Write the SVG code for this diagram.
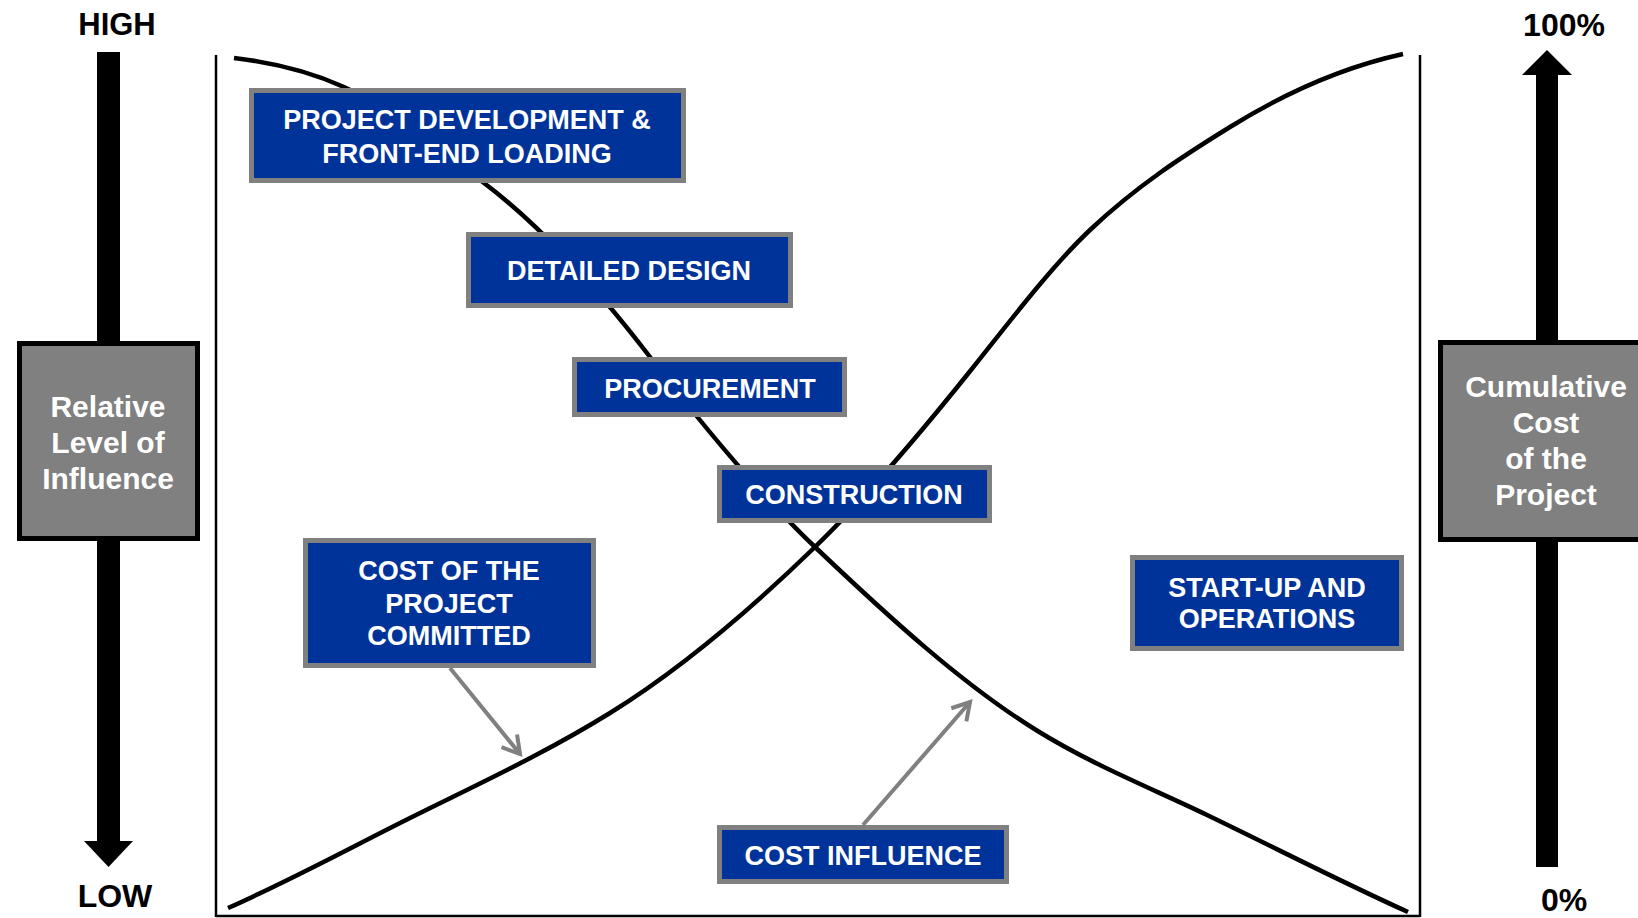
<svg xmlns="http://www.w3.org/2000/svg" width="1638" height="918" viewBox="0 0 1638 918">
  <style>
    .lbl { font-family: "Liberation Sans", Arial, sans-serif; font-weight: bold; fill: #000000; text-anchor: middle; }
    .side { font-family: "Liberation Sans", Arial, sans-serif; font-weight: bold; font-size: 30px; fill: #ffffff; text-anchor: middle; }
    .btxt { font-family: "Liberation Sans", Arial, sans-serif; font-weight: bold; font-size: 27px; fill: #ffffff; text-anchor: middle; }
    .bbox { fill: #003399; stroke: #808080; stroke-width: 5; }
    .gbox { fill: #808080; stroke: #000000; stroke-width: 5; }
    .curve { fill: none; stroke: #000000; stroke-width: 4.5; }
    .frame { fill: none; stroke: #000000; stroke-width: 2.5; }
    .conn { fill: none; stroke: #808080; stroke-width: 4; marker-end: url(#chev); }
  </style>
  <defs>
    <marker id="chev" markerUnits="userSpaceOnUse" markerWidth="26" markerHeight="26" viewBox="0 0 26 26" refX="22" refY="13" orient="auto" overflow="visible">
      <path d="M5,3 L22,13 L5,23" fill="none" stroke="#808080" stroke-width="4"/>
    </marker>
  </defs>
  <rect width="1638" height="918" fill="#ffffff"/>

  <!-- chart frame -->
  <g id="frame">
    <line class="frame" x1="216" y1="55" x2="216" y2="917"/>
    <line class="frame" x1="1420" y1="55" x2="1420" y2="917"/>
    <line class="frame" x1="216" y1="916" x2="1420" y2="916"/>
  </g>

  <!-- curves -->
  <g id="curves">
    <path id="influence-curve" class="curve" d="M234,58 C270.7,62.4 307.3,70.5 344,87 C390.7,108 437.3,148 484,183 C539.3,224.5 594.7,285.1 650,357 C705,428.5 760,494.7 815,547 C888.7,617 962.3,684.3 1036,730 C1093,765.3 1150,787.6 1207,815 C1274,847.2 1341,881.9 1408,912"/>
    <path id="cost-curve" class="curve" d="M228,908 C288.7,881.3 349.3,848.3 410,818 C476.7,784.7 543.3,754.3 610,713 C678.3,670.6 746.7,613.3 815,547 C867,496.6 919,435 971,370 C1010.7,320.4 1050.3,267.7 1090,230 C1136.7,185.7 1183.3,155.9 1230,127 C1287.7,91.2 1345.3,66.7 1403,54"/>
  </g>

  <!-- left axis -->
  <g id="left-axis">
    <text class="lbl" x="117" y="35" font-size="31">HIGH</text>
    <rect x="97" y="52" width="23" height="790" fill="#000000"/>
    <polygon points="84,841 133,841 108.5,867" fill="#000000"/>
    <text class="lbl" x="115" y="907" font-size="32">LOW</text>
  </g>
  <g id="influence-label">
    <rect class="gbox" x="19.5" y="343.5" width="178" height="195"/>
    <text class="side" x="108" y="417">Relative</text>
    <text class="side" x="108" y="453">Level of</text>
    <text class="side" x="108" y="489">Influence</text>
  </g>

  <!-- right axis -->
  <g id="right-axis">
    <text class="lbl" x="1564" y="36" font-size="32">100%</text>
    <rect x="1536" y="74" width="22" height="793" fill="#000000"/>
    <polygon points="1522,75 1572,75 1547,50" fill="#000000"/>
    <text class="lbl" x="1564" y="911" font-size="32">0%</text>
  </g>
  <g id="cost-label">
    <rect class="gbox" x="1440.5" y="342.5" width="230" height="197"/>
    <text class="side" x="1546" y="397">Cumulative</text>
    <text class="side" x="1546" y="433">Cost</text>
    <text class="side" x="1546" y="469">of the</text>
    <text class="side" x="1546" y="505">Project</text>
  </g>

  <!-- connectors -->
  <g id="connectors">
    <line class="conn" x1="450" y1="668" x2="520" y2="754"/>
    <line class="conn" x1="863" y1="825" x2="970" y2="702"/>
  </g>

  <!-- phase nodes -->
  <g id="node-fel">
    <rect class="bbox" x="251.5" y="90.5" width="432" height="90"/>
    <text class="btxt" x="467" y="129">PROJECT DEVELOPMENT &amp;</text>
    <text class="btxt" x="467" y="163">FRONT-END LOADING</text>
  </g>
  <g id="node-design">
    <rect class="bbox" x="468.5" y="234.5" width="322" height="71"/>
    <text class="btxt" x="629" y="280">DETAILED DESIGN</text>
  </g>
  <g id="node-procurement">
    <rect class="bbox" x="574.5" y="359.5" width="270" height="55"/>
    <text class="btxt" x="710" y="398">PROCUREMENT</text>
  </g>
  <g id="node-construction">
    <rect class="bbox" x="719.5" y="467.5" width="270" height="53"/>
    <text class="btxt" x="854" y="504">CONSTRUCTION</text>
  </g>
  <g id="node-committed">
    <rect class="bbox" x="305.5" y="540.5" width="288" height="125"/>
    <text class="btxt" x="449" y="580">COST OF THE</text>
    <text class="btxt" x="449" y="613">PROJECT</text>
    <text class="btxt" x="449" y="645">COMMITTED</text>
  </g>
  <g id="node-startup">
    <rect class="bbox" x="1132.5" y="557.5" width="269" height="91"/>
    <text class="btxt" x="1267" y="597">START-UP AND</text>
    <text class="btxt" x="1267" y="628">OPERATIONS</text>
  </g>
  <g id="node-influence">
    <rect class="bbox" x="719.5" y="827.5" width="287" height="54"/>
    <text class="btxt" x="863" y="865">COST INFLUENCE</text>
  </g>
</svg>
